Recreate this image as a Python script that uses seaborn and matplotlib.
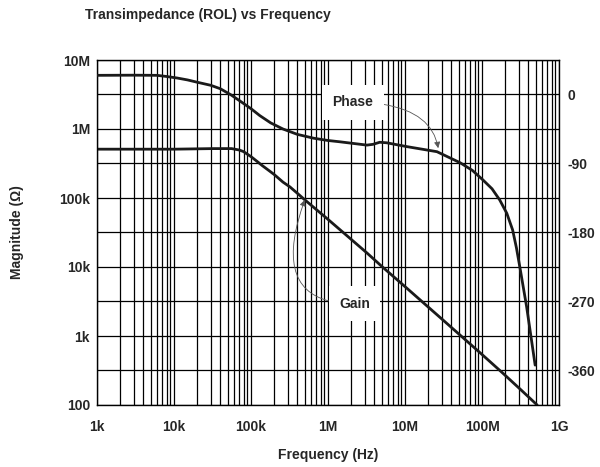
"""
Transimpedance (ROL) vs Frequency - gain & phase Bode plot
"""

import numpy as np
import matplotlib
matplotlib.use('Agg')
import matplotlib.pyplot as plt
from matplotlib.ticker import NullFormatter
import seaborn as sns

sns.set_style('white')
plt.rcParams['font.family'] = ['Liberation Sans', 'DejaVu Sans']
plt.rcParams['font.weight'] = 'bold'

# Gain (magnitude, ohm) vs frequency (Hz)
gain_freq = [1e3, 3.2e3, 1e4, 3.2e4, 5.6e4, 7.1e4, 8e4, 1e5, 1.2e5, 1.4e5, 1.7e5,
             2e5, 2.6e5, 3.2e5, 4e5, 5e5, 1e6, 3.2e6, 5.1e6, 1e7, 3.2e7, 1e8,
             1.86e8, 3.2e8, 5.2e8]
gain_mag = [5.1e5, 5.1e5, 5.1e5, 5.2e5, 5.2e5, 4.95e5, 4.7e5, 3.98e5, 3.39e5, 2.95e5, 2.51e5,
            2.19e5, 1.7e5, 1.45e5, 1.17e5, 9.4e4, 4.9e4, 1.6e4, 1.0e4, 5.2e3, 1.66e3, 540,
            290, 166, 100]

# Phase (deg) vs frequency (Hz)
phase_freq = [1e3, 3e3, 6e3, 8e3, 1.1e4, 1.5e4, 2e4, 3e4, 4e4, 5.5e4, 7.2e4, 1e5,
              1.3e5, 1.8e5, 2.6e5, 4e5, 6.5e5, 1e6, 1.4e6, 3.2e6, 3.84e6, 4.7e6,
              5.8e6, 1.06e7, 2.6e7, 5.2e7, 7.5e7, 1.03e8, 1.35e8, 1.7e8, 2.1e8,
              2.5e8, 2.8e8, 3.1e8, 3.8e8, 4.9e8]
phase_deg = [25, 25.2, 25, 23.5, 21.5, 19, 16, 12, 7.5, -0.5, -8.5, -18.5,
             -27.5, -37, -45, -52, -57, -60, -61.6, -66, -65, -62.3,
             -63, -68, -74.6, -89, -99, -111.5, -123, -137.6, -155,
             -176.7, -200, -225, -277, -353]

x_ticks = [1e3, 1e4, 1e5, 1e6, 1e7, 1e8, 1e9]
x_labels = ['1k', '10k', '100k', '1M', '10M', '100M', '1G']
y_ticks = [1e2, 1e3, 1e4, 1e5, 1e6, 1e7]
y_labels = ['100', '1k', '10k', '100k', '1M', '10M']
phase_ticks = [0, -90, -180, -270, -360]
phase_labels = ['0', '-90', '-180', '-270', '-360']

fig = plt.figure(figsize=(6, 4.67), dpi=100)
ax = fig.add_axes([97/600, 1-405/467, 462/600, 345/467])

ax.set_xscale('log')
ax.set_yscale('log')
ax.set_xlim(1e3, 1e9)
ax.set_ylim(1e2, 1e7)

# grid: every 1..9 in x, half decades in y
ax.set_xticks(x_ticks, x_labels)
minor_x = [m * 10**e for e in range(3, 9) for m in range(2, 10)]
ax.set_xticks(minor_x, minor=True)
ax.xaxis.set_minor_formatter(NullFormatter())
ax.set_yticks(y_ticks, y_labels)
ax.set_yticks([3.1623 * 10**e for e in range(2, 7)], minor=True)
ax.yaxis.set_minor_formatter(NullFormatter())
ax.grid(True, which='both', color='black', linewidth=0.9)
ax.set_axisbelow(True)
ax.tick_params(which='both', length=0)
ax.tick_params(axis='x', pad=11, labelsize=10)
ax.tick_params(axis='y', pad=5, labelsize=10)
for s in ax.spines.values():
    s.set_color('black')
    s.set_linewidth(1.0)

sns.lineplot(x=gain_freq, y=gain_mag, ax=ax, color='#1a1a1a', linewidth=2.0)

ax2 = ax.twinx()
ax2.set_ylim(-405, 45)
ax2.set_yticks(phase_ticks, phase_labels)
ax2.tick_params(length=0, pad=6, labelsize=10)
ax2.grid(False)
sns.lineplot(x=phase_freq, y=phase_deg, ax=ax2, color='#1a1a1a', linewidth=2.0)
ax2.set_xlim(1e3, 1e9)
for s in ax2.spines.values():
    s.set_visible(False)

box = dict(boxstyle='square,pad=0.75', fc='white', ec='none')
arrow_kw = dict(arrowstyle='-|>', color='#555555', lw=0.6, mutation_scale=9, shrinkA=0, shrinkB=0)

ax2.annotate('Phase', xy=(2.7e7, -70), xytext=(2.1e6, -10), textcoords='data',
             ha='center', va='center', fontsize=10, fontweight='bold', bbox=box,
             arrowprops=dict(connectionstyle='angle3,angleA=0,angleB=100', **arrow_kw))
ax2.annotate('Gain', xy=(5e5, 9.4e4), xycoords=ax.transData, xytext=(2.2e6, -273),
             textcoords='data', ha='center', va='center', fontsize=10,
             fontweight='bold', bbox=box,
             arrowprops=dict(connectionstyle='angle3,angleA=180,angleB=70', **arrow_kw))

ax.set_xlabel('Frequency (Hz)', fontsize=10, fontweight='bold')
ax.xaxis.set_label_coords(0.5, -0.125)
ax.set_ylabel('Magnitude (Ω)', fontsize=10, fontweight='bold')
ax.yaxis.set_label_coords(-0.158, 0.5)

fig.text(85/600, 1-15/467, 'Transimpedance (ROL) vs Frequency', ha='left', va='center',
         fontsize=10, fontweight='bold')

fig.savefig('out.png', dpi=100)
